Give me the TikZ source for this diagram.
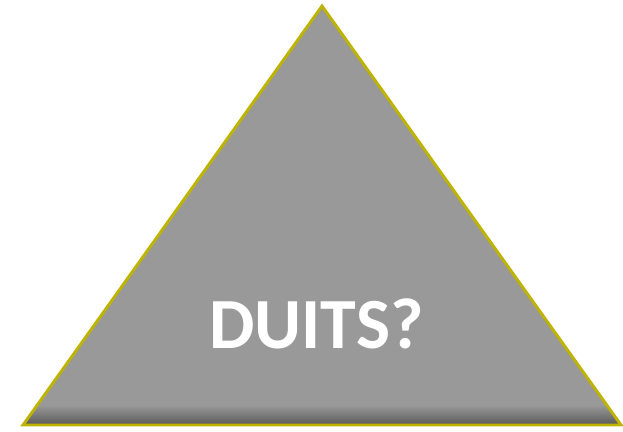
\documentclass[tikz,border=0pt]{standalone}
\usepackage{fontspec}
\setmainfont{Carlito}
\definecolor{pyramidgray}{RGB}{153, 153, 153}
\definecolor{pyramidedge}{RGB}{190, 180, 0}
\usetikzlibrary{calc}

\begin{document}
\begin{tikzpicture}[x=0.03cm, y=-0.03cm]
        \useasboundingbox (0, 0) rectangle (623, 432);
        \coordinate (apex) at (322, 6);
        \coordinate (left) at (23, 425);
        \coordinate (right) at (621, 425);
        
        \fill[pyramidgray] (left) -- (apex) -- (right) -- cycle;
        \begin{scope}
            \clip (left) -- (apex) -- (right) -- cycle;
            \shade[top color=pyramidgray, bottom color=black!65] (0, 405) rectangle (623, 425);
        \end{scope}
        \draw[draw=pyramidedge, line width=2.5pt, line join=miter] (left) -- (apex) -- (right) -- cycle;
        
        \node[text=white, font=\fontsize{61.5}{68}\selectfont\bfseries] (title) at (316.5, 324) {DUITS?};
    \end{tikzpicture}
\end{document}
